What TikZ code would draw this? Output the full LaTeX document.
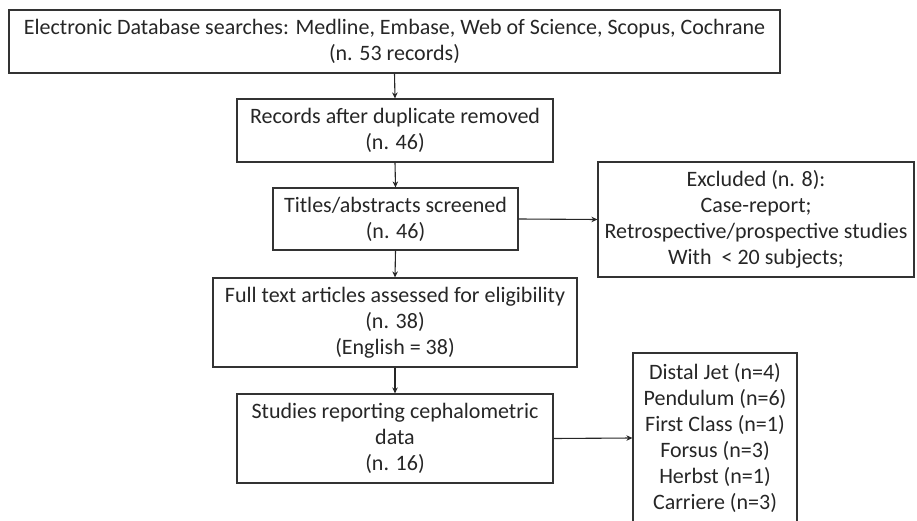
\documentclass[tikz,border=0pt]{standalone}
\usepackage{fontspec}
\setmainfont{Carlito}
\usetikzlibrary{arrows.meta}
\begin{document}
\begin{tikzpicture}[x=1pt,y=-1pt,
 box/.style={draw=black!80, line width=1.2pt, inner sep=0pt, align=center, font=\fontsize{22}{26}\selectfont, text=black!85},
 conn/.style={draw=black!85, line width=1.1pt, -{Stealth[length=6pt,width=5.5pt]}}]
\useasboundingbox (0,0) rectangle (917,521);
\node[box, minimum width=771pt, minimum height=63pt] (b1) at (394.5,41.5) {Electronic Database searches: Medline, Embase, Web of Science, Scopus, Cochrane\\(n. 53 records)};
\node[box, minimum width=316pt, minimum height=63pt] (b2) at (395,130.5) {Records after duplicate removed\\(n. 46)};
\node[box, minimum width=245pt, minimum height=62pt] (b3) at (395.5,219) {Titles/abstracts screened\\(n. 46)};
\node[box, minimum width=316pt, minimum height=115pt] (ex) at (756,219.5) {Excluded (n. 8):\\Case-report;\\Retrospective/prospective studies\\With\ \ {<} 20 subjects;};
\node[box, minimum width=364pt, minimum height=89pt] (b4) at (395,322.5) {Full text articles assessed for eligibility\\(n. 38)\\(English = 38)};
\node[box, minimum width=316pt, minimum height=89pt] (b5) at (395,438.5) {Studies reporting cephalometric\\data\\(n. 16)};
\node[box, minimum width=164pt, minimum height=170pt] (b6) at (715,438) {Distal Jet (n=4)\\Pendulum (n=6)\\First Class (n=1)\\Forsus (n=3)\\Herbst (n=1)\\Carriere (n=3)};
\draw[conn] (b1.south) -- (b2.north);
\draw[conn] (b2.south) -- (b3.north);
\draw[conn] (b3.south) -- (b4.north);
\draw[conn] (b4.south) -- (b5.north);
\draw[conn] (b3.east) -- (ex.west);
\draw[conn] (b5.east) -- (b6.west);
\end{tikzpicture}
\end{document}
